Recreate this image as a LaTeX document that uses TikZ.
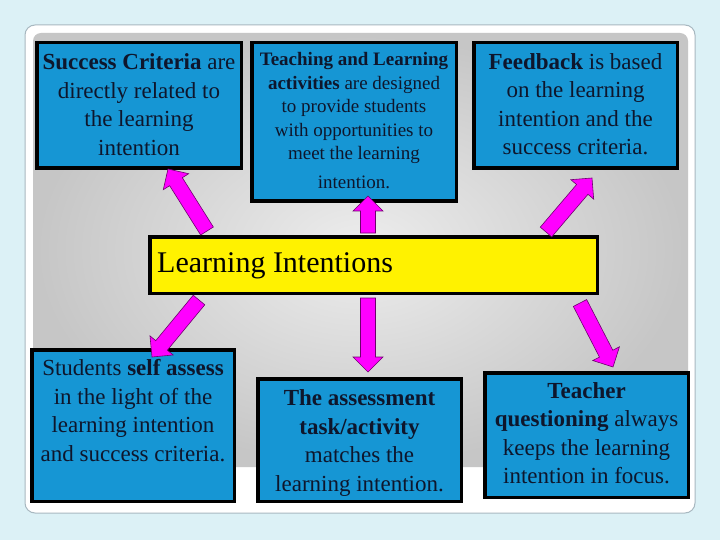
\documentclass[tikz,border=0pt]{standalone}
\usepackage{fontspec}
\setmainfont{Liberation Serif}
\usetikzlibrary{calc}
\definecolor{bgcyan}{RGB}{220,241,246}
\definecolor{cardline}{RGB}{168,184,192}
\definecolor{boxblue}{RGB}{22,150,212}
\definecolor{txt}{RGB}{14,22,44}
\definecolor{mag}{RGB}{255,0,255}
\definecolor{magline}{RGB}{110,0,110}
\tikzset{
  box/.style={draw=black, line width=3.5pt, fill=boxblue, inner sep=0pt},
  libox/.style={draw=black, line width=3.5pt, fill=yellow, inner sep=0pt},
  bigtxt/.style={anchor=base, align=center, inner sep=0pt, text=txt,
     font=\fontsize{23}{28.5}\selectfont},
  smalltxt/.style={anchor=base, align=center, inner sep=0pt, text=txt,
     font=\fontsize{19}{23.5}\selectfont},
  barrow/.style={fill=mag, draw=magline, line width=0.6pt, line join=miter},
}
\newcommand\magarrow[2]{%
  \coordinate (hb) at ($(#2)!15pt!(#1)$);
  \draw[barrow] ($(#1)!7.5pt!90:(#2)$) -- ($(hb)!7.5pt!90:(#2)$) --
    ($(hb)!15pt!90:(#2)$) -- (#2) -- ($(hb)!15pt!-90:(#2)$) --
    ($(hb)!7.5pt!-90:(#2)$) -- ($(#1)!7.5pt!-90:(#2)$) -- cycle;}
\begin{document}
\begin{tikzpicture}[x=1pt,y=-1pt]
\useasboundingbox (0,0) rectangle (720,540);
\fill[bgcyan] (0,0) rectangle (720,540);
% card
\draw[cardline, line width=1pt, fill=white, rounded corners=10pt] (25,25) rectangle (695,513);
% grey panel
\shade[inner color=gray!14, outer color=gray!45, rounded corners=8pt]
  (33,467) -- (33,33) -- (688,33) -- (688,467) [sharp corners] -- cycle;

% boxes
\node[box, minimum width=204.5pt, minimum height=125.5pt] (sc) at (139,105.5) {};
\node[box, minimum width=204.5pt, minimum height=158.5pt] (tl) at (354,122) {};
\node[box, minimum width=203.5pt, minimum height=125.5pt] (fb) at (575.5,105.5) {};
\node[libox, minimum width=447.5pt, minimum height=56.5pt] (li) at (373.5,265) {};
\node[box, minimum width=202.5pt, minimum height=151.5pt] (sa) at (133,425.5) {};
\node[box, minimum width=203.5pt, minimum height=122.5pt] (at) at (359.5,440) {};
\node[box, minimum width=203.5pt, minimum height=124.5pt] (tq) at (586.5,435) {};

% texts (anchor = baseline of last line)
\node[bigtxt] (sct) at (139,155.5) {\textbf{Success Criteria} are\\directly related to\\the learning\\intention};
\node[smalltxt] (tlt) at (354,188.5) {\textbf{Teaching and Learning}\\\textbf{activities} are designed\\to provide students\\with opportunities to\\meet the learning\\[5pt]intention.};
\node[bigtxt] (fbt) at (575.5,155) {\textbf{Feedback} is based\\on the learning\\intention and the\\success criteria.};
\node[anchor=base west, inner sep=0pt, text=black, font=\fontsize{30}{34}\selectfont] (lit) at (157,272) {Learning Intentions};
\node[bigtxt] (sat) at (133,461) {Students \textbf{self assess}\\in the light of the\\learning intention\\and success criteria.};
\node[bigtxt] (att) at (359.5,491) {\textbf{The assessment}\\\textbf{task/activity}\\matches the\\learning intention.};
\node[bigtxt] (tqt) at (586.5,483.5) {\textbf{Teacher}\\\textbf{questioning} always\\keeps the learning\\intention in focus.};

% arrow ends
\coordinate (a1s) at (207,231); \coordinate (a1e) at (168,169);
\coordinate (a2s) at (368,233); \coordinate (a2e) at (368,196);
\coordinate (a3s) at (546,232); \coordinate (a3e) at (592,178);
\coordinate (a4s) at (199,300); \coordinate (a4e) at (152,357);
\coordinate (a5s) at (368,298); \coordinate (a5e) at (368,372);
\coordinate (a6s) at (580,303); \coordinate (a6e) at (613,367);
\magarrow{a1s}{a1e}
\magarrow{a2s}{a2e}
\magarrow{a3s}{a3e}
\magarrow{a4s}{a4e}
\magarrow{a5s}{a5e}
\magarrow{a6s}{a6e}
\end{tikzpicture}
\end{document}
